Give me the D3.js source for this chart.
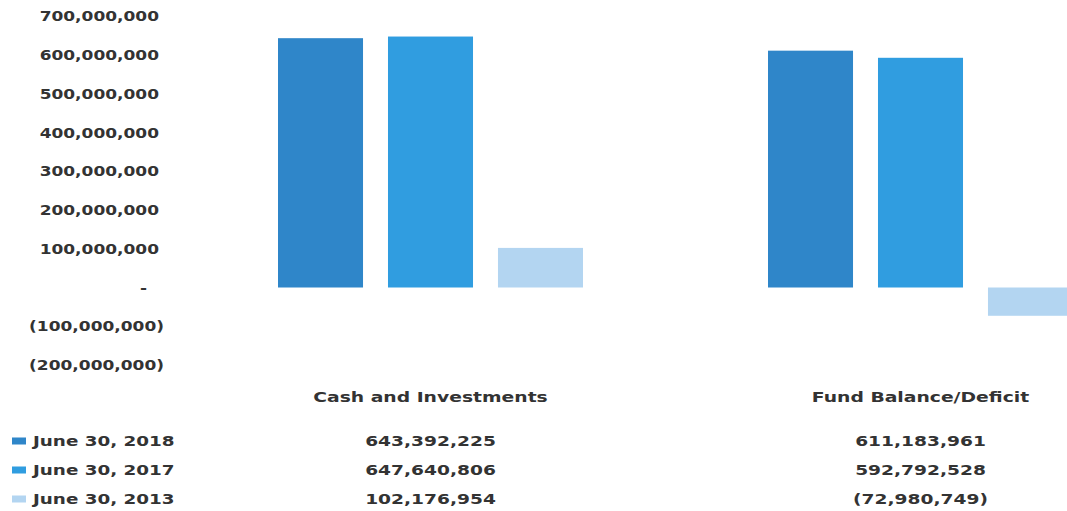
<!DOCTYPE html>
<html>
<head>
<meta charset="utf-8">
<script src="https://cdn.jsdelivr.net/npm/d3@7"></script>
<style>
  body { margin: 0; background: #fff; }
  svg { display: block; }
  text { font-family: "DejaVu Sans", Verdana, sans-serif; font-weight: bold; fill: #333; }
</style>
</head>
<body>
<svg id="chart" width="1067" height="511"></svg>
<script>
// Balances by category, one array per reporting date
const categories = ["Cash and Investments", "Fund Balance/Deficit"];
const seriesNames = ["June 30, 2018", "June 30, 2017", "June 30, 2013"];
const june2018 = [643392225, 611183961];
const june2017 = [647640806, 592792528];
const june2013 = [102176954, -72980749];
const yTicks = [-200000000, -100000000, 0, 100000000, 200000000, 300000000,
                400000000, 500000000, 600000000, 700000000];

const seriesColors = ["#2f86c9", "#309de0", "#b3d5f1"];

const series = seriesNames.map((name, i) => ({
  name,
  color: seriesColors[i],
  values: [june2018, june2017, june2013][i]
}));

const svg = d3.select("#chart");

// Accounting-style number format: negatives in parentheses, zero as a dash
const grouped = d3.format(",");
const acct = v => v === 0 ? "-" : v < 0 ? "(" + grouped(-v) + ")" : grouped(v);

const x0 = d3.scaleBand().domain(categories).range([185.5, 1165.5]);
const x1 = d3.scaleBand().domain(seriesNames)
  .range([0, x0.bandwidth()])
  .paddingInner(0.227)
  .paddingOuter(0.841);
const y = d3.scaleLinear().domain([-200000000, 700000000]).range([365, 16.25]);

// Wide lettering: the text is stretched horizontally about its anchor
const axisStretch = 1.26;
const tableStretch = 1.33;
const legendStretch = 1.31;
const categoryStretch = 1.34;

// Y axis (labels only, no line or tick marks)
const yAxis = svg.append("g")
  .attr("transform", "translate(159,0)")
  .call(d3.axisLeft(y).tickValues(yTicks).tickSize(0).tickPadding(0).tickFormat(acct));
yAxis.select(".domain").remove();
yAxis.selectAll(".tick text")
  .attr("font-family", null)
  .attr("font-size", null)
  .style("font-size", "13.5px")
  .attr("fill", null)
  .attr("dy", "0.35em")
  .attr("x", d => d < 0 ? 5 / axisStretch : d === 0 ? -12 / axisStretch : 0)
  .attr("transform", `scale(${axisStretch},1)`);

// Clustered bars
const groups = svg.append("g").selectAll("g")
  .data(categories)
  .join("g")
  .attr("transform", c => `translate(${x0(c)},0)`);

groups.selectAll("rect")
  .data((c, ci) => series.map(s => ({ s, v: s.values[ci] })))
  .join("rect")
  .attr("x", d => x1(d.s.name))
  .attr("width", x1.bandwidth())
  .attr("y", d => y(Math.max(0, d.v)))
  .attr("height", d => Math.abs(y(d.v) - y(0)))
  .attr("fill", d => d.s.color);

// Category labels under the plot
const center = c => x0(c) + x0.bandwidth() / 2;
svg.append("g").selectAll("text")
  .data(categories)
  .join("text")
  .attr("transform", c => `translate(${center(c)},397) scale(${categoryStretch},1)`)
  .attr("text-anchor", "middle")
  .attr("dy", "0.35em")
  .style("font-size", "14px")
  .text(c => c);

// Data table: one row per series with a legend key
const rowY = [441, 470, 499];
const rows = svg.append("g").selectAll("g")
  .data(series)
  .join("g")
  .attr("transform", (s, i) => `translate(0,${rowY[i]})`);

rows.append("rect")
  .attr("x", 12)
  .attr("y", -3.5)
  .attr("width", 14)
  .attr("height", 7)
  .attr("fill", s => s.color);

rows.append("text")
  .attr("transform", `translate(33,0) scale(${legendStretch},1)`)
  .attr("dy", "0.35em")
  .style("font-size", "14px")
  .text(s => s.name);

rows.selectAll("text.value")
  .data(s => s.values.map((v, ci) => ({ v, c: categories[ci] })))
  .join("text")
  .attr("class", "value")
  .attr("transform", d => `translate(${center(d.c)},0) scale(${tableStretch},1)`)
  .attr("text-anchor", "middle")
  .attr("dy", "0.35em")
  .style("font-size", "14px")
  .text(d => acct(d.v));
</script>
</body>
</html>
